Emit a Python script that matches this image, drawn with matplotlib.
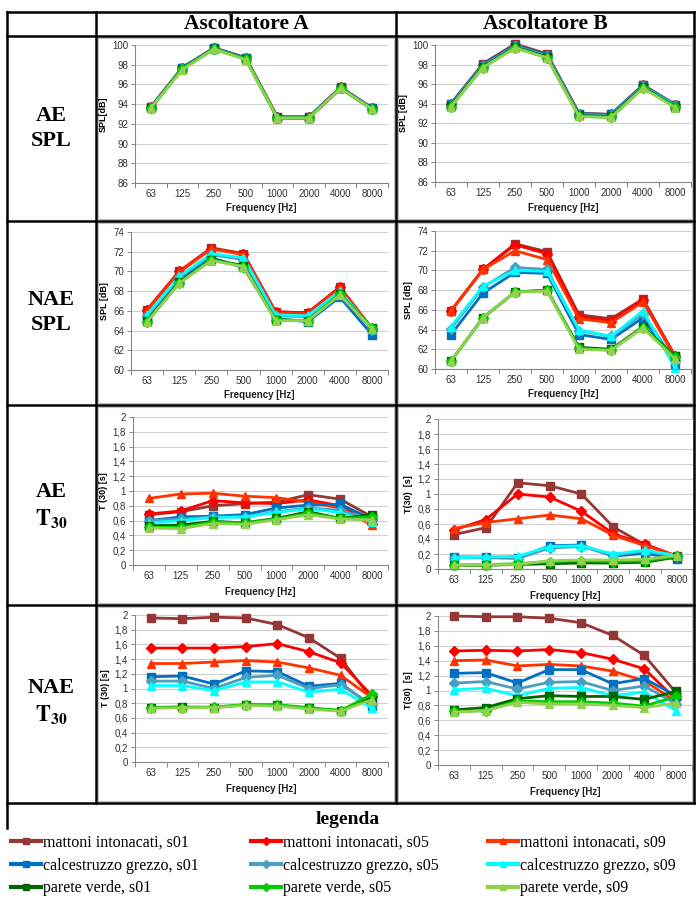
import matplotlib
matplotlib.use('Agg')
import matplotlib.pyplot as plt
from matplotlib.lines import Line2D
from matplotlib.patches import Rectangle
from matplotlib.ticker import FuncFormatter, MultipleLocator, FixedLocator

plt.rcParams['mathtext.fontset'] = 'stix'

W, H = 696, 900

freqs = ['63', '125', '250', '500', '1000', '2000', '4000', '8000']

names = ['mattoni intonacati, s01', 'mattoni intonacati, s05', 'mattoni intonacati, s09',
         'calcestruzzo grezzo, s01', 'calcestruzzo grezzo, s05', 'calcestruzzo grezzo, s09',
         'parete verde, s01', 'parete verde, s05', 'parete verde, s09']
colors = ['#953735', '#FF0000', '#FF3300',
          '#0070C0', '#4A9EBF', '#00FFFF',
          '#006600', '#00CC00', '#92D050']
markers = ['s', 'D', '^', 's', 'D', '^', 's', 'D', '^']

# AE SPL
ae_spl_a = [
    [93.7, 97.7, 99.7, 98.7, 92.7, 92.7, 95.7, 93.6],
    [93.7, 97.7, 99.7, 98.7, 92.7, 92.7, 95.7, 93.6],
    [93.7, 97.6, 99.7, 98.6, 92.6, 92.6, 95.6, 93.6],
    [93.7, 97.7, 99.7, 98.7, 92.7, 92.7, 95.7, 93.6],
    [93.6, 97.6, 99.6, 98.6, 92.6, 92.6, 95.6, 93.5],
    [93.6, 97.6, 99.6, 98.6, 92.6, 92.6, 95.6, 93.5],
    [93.6, 97.6, 99.6, 98.6, 92.6, 92.6, 95.6, 93.5],
    [93.6, 97.6, 99.6, 98.6, 92.6, 92.6, 95.6, 93.5],
    [93.6, 97.5, 99.6, 98.5, 92.6, 92.6, 95.6, 93.5],
]
ae_spl_b = [
    [94.0, 98.1, 100.1, 99.1, 93.0, 92.9, 95.9, 93.9],
    [94.0, 98.0, 100.0, 99.0, 93.0, 92.9, 95.9, 93.9],
    [93.9, 97.9, 99.9, 98.9, 92.9, 92.8, 95.8, 93.8],
    [94.0, 98.0, 100.0, 99.0, 93.0, 92.9, 95.9, 93.9],
    [93.9, 97.9, 99.9, 98.9, 92.9, 92.8, 95.8, 93.8],
    [93.8, 97.8, 99.8, 98.8, 92.8, 92.7, 95.7, 93.8],
    [93.8, 97.8, 99.8, 98.8, 92.8, 92.7, 95.7, 93.7],
    [93.7, 97.7, 99.7, 98.7, 92.7, 92.6, 95.6, 93.7],
    [93.7, 97.7, 99.7, 98.7, 92.7, 92.6, 95.6, 93.6],
]
# NAE SPL
nae_spl_a = [
    [66.1, 70.0, 72.4, 71.8, 65.9, 65.8, 68.4, 64.2],
    [66.1, 70.0, 72.3, 71.8, 65.9, 65.8, 68.4, 64.2],
    [66.0, 69.9, 72.3, 71.7, 65.8, 65.7, 68.3, 64.2],
    [65.3, 69.1, 71.4, 70.4, 65.2, 64.9, 67.4, 63.6],
    [65.5, 69.4, 71.7, 71.2, 65.5, 65.4, 67.9, 64.1],
    [65.6, 69.5, 71.8, 71.4, 65.6, 65.5, 68.0, 64.2],
    [65.0, 68.9, 71.2, 70.6, 65.1, 65.0, 67.7, 64.3],
    [64.9, 68.8, 71.2, 70.5, 65.1, 65.0, 67.7, 64.3],
    [64.9, 68.8, 71.1, 70.5, 65.0, 65.0, 67.6, 64.2],
]
nae_spl_b = [
    [65.9, 70.1, 72.7, 71.9, 65.5, 65.1, 67.1, 61.3],
    [65.9, 70.1, 72.6, 71.7, 65.3, 64.9, 67.0, 61.3],
    [65.9, 70.1, 72.0, 71.1, 65.1, 64.7, 66.8, 61.2],
    [63.5, 67.7, 69.8, 69.7, 63.5, 63.0, 65.2, 60.5],
    [64.1, 68.3, 70.3, 70.1, 63.9, 63.3, 65.6, 60.8],
    [64.3, 68.4, 70.0, 69.9, 64.0, 63.3, 65.9, 60.1],
    [60.8, 65.2, 67.8, 68.0, 62.2, 62.0, 64.3, 61.3],
    [60.8, 65.2, 67.8, 68.0, 62.1, 61.9, 64.2, 61.2],
    [60.8, 65.2, 67.8, 67.9, 62.0, 61.9, 64.2, 61.0],
]
# AE T30
ae_t30_a = [
    [0.68, 0.72, 0.80, 0.83, 0.85, 0.95, 0.89, 0.65],
    [0.69, 0.73, 0.87, 0.84, 0.83, 0.88, 0.80, 0.55],
    [0.90, 0.96, 0.97, 0.93, 0.91, 0.85, 0.77, 0.54],
    [0.60, 0.65, 0.66, 0.68, 0.77, 0.81, 0.82, 0.62],
    [0.60, 0.62, 0.65, 0.65, 0.72, 0.77, 0.74, 0.61],
    [0.57, 0.60, 0.64, 0.65, 0.71, 0.76, 0.71, 0.58],
    [0.53, 0.54, 0.59, 0.57, 0.63, 0.72, 0.63, 0.68],
    [0.51, 0.51, 0.58, 0.57, 0.62, 0.70, 0.63, 0.65],
    [0.50, 0.49, 0.56, 0.55, 0.61, 0.68, 0.62, 0.61],
]
ae_t30_b = [
    [0.46, 0.55, 1.15, 1.11, 1.00, 0.56, 0.32, 0.17],
    [0.52, 0.66, 1.00, 0.96, 0.77, 0.47, 0.33, 0.17],
    [0.54, 0.62, 0.67, 0.72, 0.67, 0.45, 0.31, 0.17],
    [0.16, 0.16, 0.15, 0.31, 0.32, 0.17, 0.21, 0.13],
    [0.15, 0.15, 0.14, 0.28, 0.30, 0.18, 0.24, 0.16],
    [0.15, 0.16, 0.17, 0.30, 0.31, 0.20, 0.25, 0.18],
    [0.05, 0.05, 0.06, 0.07, 0.08, 0.08, 0.09, 0.16],
    [0.05, 0.06, 0.07, 0.10, 0.11, 0.10, 0.11, 0.17],
    [0.05, 0.06, 0.06, 0.11, 0.12, 0.12, 0.13, 0.18],
]
# NAE T30
nae_t30_a = [
    [1.96, 1.95, 1.97, 1.96, 1.87, 1.69, 1.41, 0.85],
    [1.55, 1.55, 1.55, 1.57, 1.61, 1.50, 1.35, 0.90],
    [1.34, 1.34, 1.36, 1.38, 1.36, 1.28, 1.18, 0.87],
    [1.16, 1.17, 1.06, 1.24, 1.23, 1.03, 1.07, 0.76],
    [1.10, 1.10, 1.00, 1.15, 1.18, 1.00, 1.05, 0.78],
    [1.04, 1.04, 0.97, 1.09, 1.09, 0.95, 0.99, 0.73],
    [0.74, 0.75, 0.74, 0.78, 0.77, 0.73, 0.70, 0.88],
    [0.74, 0.74, 0.75, 0.78, 0.78, 0.74, 0.70, 0.92],
    [0.73, 0.74, 0.74, 0.77, 0.76, 0.72, 0.69, 0.85],
]
nae_t30_b = [
    [2.00, 1.99, 1.99, 1.97, 1.91, 1.74, 1.47, 0.97],
    [1.53, 1.54, 1.53, 1.55, 1.51, 1.42, 1.29, 0.88],
    [1.40, 1.41, 1.33, 1.35, 1.33, 1.26, 1.13, 0.85],
    [1.23, 1.24, 1.10, 1.28, 1.28, 1.09, 1.16, 0.93],
    [1.10, 1.12, 1.02, 1.11, 1.12, 1.00, 1.06, 0.82],
    [1.01, 1.03, 0.93, 1.03, 1.04, 0.93, 0.98, 0.73],
    [0.74, 0.77, 0.89, 0.93, 0.92, 0.92, 0.88, 0.99],
    [0.72, 0.73, 0.86, 0.85, 0.85, 0.83, 0.79, 0.92],
    [0.71, 0.73, 0.84, 0.82, 0.82, 0.80, 0.77, 0.83],
]

fig = plt.figure(figsize=(W / 100, H / 100), dpi=100)

def fline(x1, y1, x2, y2, lw=1.8, color='black'):
    fig.add_artist(Line2D([x1 / W, x2 / W], [1 - y1 / H, 1 - y2 / H],
                          transform=fig.transFigure, color=color, lw=lw,
                          solid_capstyle='projecting'))

def ftext(x, y, s, **kw):
    fig.text(x / W, 1 - y / H, s, **kw)

# table grid
rows_y = [12, 36, 221, 405, 605, 803]
cols_x = [7, 96, 396, 694]
for y in rows_y:
    fline(7, y, 694, y)
fline(7, 12, 7, 828)
for x in cols_x[1:]:
    fline(x, 12, x, 803)

# chart frames inside cells
for r in range(1, 5):
    for c in (1, 2):
        x0, x1 = cols_x[c] + 2, cols_x[c + 1] - 2
        y0, y1 = rows_y[r] + 2, rows_y[r + 1] - 2
        fig.add_artist(Rectangle((x0 / W, 1 - y1 / H), (x1 - x0) / W, (y1 - y0) / H,
                                 transform=fig.transFigure, facecolor='white',
                                 edgecolor='#BFBFBF', lw=0.8, zorder=0))

serif = 'Liberation Serif'
ftext(246, 24, 'Ascoltatore A', family=serif, weight='bold', fontsize=15.5, ha='center', va='center')
ftext(545, 24, 'Ascoltatore B', family=serif, weight='bold', fontsize=15.5, ha='center', va='center')

lab = dict(family=serif, weight='bold', fontsize=16, ha='center', va='center')
ftext(51, 116, 'AE', **lab)
ftext(51, 141, 'SPL', **lab)
ftext(51, 300, 'NAE', **lab)
ftext(51, 325, 'SPL', **lab)
ftext(51, 492, 'AE', **lab)
ftext(51, 519, r'$\mathbf{T_{30}}$', **lab)
ftext(51, 688, 'NAE', **lab)
ftext(51, 715, r'$\mathbf{T_{30}}$', **lab)

comma = FuncFormatter(lambda v, p: ('%g' % round(v, 2)).replace('.', ','))

panels = [
    # data, (left, top, right, bottom), ylim, step, ylabel, xlabel y
    (ae_spl_a, (135, 45, 388, 183), (86, 100), 2, 'SPL[dB]', 208),
    (ae_spl_b, (435, 45, 691, 182), (86, 100), 2, 'SPL [dB]', 208),
    (nae_spl_a, (131, 232, 388, 370), (60, 74), 2, 'SPL [dB]', 395),
    (nae_spl_b, (435, 231, 691, 369), (60, 74), 2, 'SPL [dB]', 394),
    (ae_t30_a, (133, 417, 388, 565), (0, 2), 0.2, 'T (30) [s]', 592),
    (ae_t30_b, (438, 419, 693, 569), (0, 2), 0.2, 'T(30)  [s]', 596),
    (nae_t30_a, (135, 615, 388, 762), (0, 2), 0.2, 'T (30) [s]', 789),
    (nae_t30_b, (438, 616, 692, 765), (0, 2), 0.2, 'T(30)  [s]', 792),
]

sans = 'Liberation Sans'
handles = []
for k, (data, (l, t, r, b), ylim, step, ylabel, xly) in enumerate(panels):
    ax = fig.add_axes([l / W, 1 - b / H, (r - l) / W, (b - t) / H])
    x = list(range(len(freqs)))
    for i, vals in enumerate(data):
        ms = 5.2 if markers[i] == 'D' else 6.2
        ln, = ax.plot(x, vals, color=colors[i], marker=markers[i], ms=ms, lw=2,
                      clip_on=False, label=names[i])
        if k == 0:
            handles.append(ln)
    ax.set_xlim(-0.5, 7.5)
    ax.set_ylim(*ylim)
    ax.yaxis.set_major_locator(MultipleLocator(step))
    if step < 1:
        ax.yaxis.set_major_formatter(comma)
    ax.set_xticks(x)
    ax.set_xticklabels(freqs)
    ax.xaxis.set_minor_locator(FixedLocator([i - 0.5 for i in range(9)]))
    ax.tick_params(axis='x', which='major', length=0, pad=4.5, labelsize=7)
    ax.tick_params(axis='x', which='minor', length=3.5, color='#868686', width=0.7)
    ax.tick_params(axis='y', length=3, color='#868686', width=0.7, labelsize=7, pad=2)
    for lbl in ax.get_xticklabels() + ax.get_yticklabels():
        lbl.set_family(sans)
        lbl.set_color('#303030')
    for s in ('top', 'right'):
        ax.spines[s].set_visible(False)
    for s in ('left', 'bottom'):
        ax.spines[s].set_color('#868686')
        ax.spines[s].set_linewidth(0.8)
    ax.grid(axis='y', color='#CFCFCF', lw=0.8)
    ax.set_axisbelow(True)
    ax.set_ylabel(ylabel, family=sans, weight='bold', fontsize=6.5, labelpad=3)
    ftext((l + r) / 2, xly, 'Frequency [Hz]', family=sans, weight='bold',
          fontsize=7, ha='center', va='center', color='#202020')

# legend: one column per sample position
ftext(348, 820, 'legenda', family=serif, weight='bold', fontsize=14, ha='center', va='center')
for c, x0 in enumerate([11, 251, 488]):
    idx = [c, c + 3, c + 6]
    leg = fig.legend([handles[i] for i in idx], [names[i] for i in idx], ncol=1,
                     loc='upper left', bbox_to_anchor=(x0 / W, 1 - 835 / H),
                     frameon=False, prop={'family': serif, 'size': 11.5},
                     handlelength=1.9, handletextpad=0.1,
                     labelspacing=0.42, borderaxespad=0, borderpad=0, markerscale=0.7)
    for ln in leg.get_lines():
        ln.set_linewidth(3)

fig.savefig('out.png', dpi=100)
